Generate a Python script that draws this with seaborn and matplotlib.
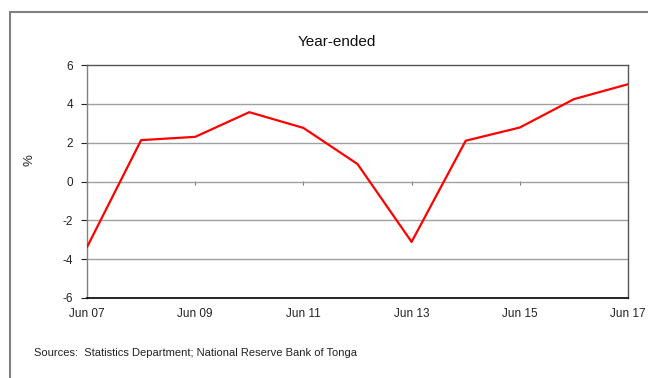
import matplotlib
matplotlib.use("Agg")
import matplotlib.pyplot as plt
import matplotlib.patches as mpatches
import seaborn as sns
import pandas as pd

periods = ["Jun 07", "Jun 08", "Jun 09", "Jun 10", "Jun 11", "Jun 12",
           "Jun 13", "Jun 14", "Jun 15", "Jun 16", "Jun 17"]
values = [-3.38, 2.13, 2.30, 3.57, 2.76, 0.90, -3.11, 2.10, 2.78, 4.24, 5.01]
y_ticks = [-6, -4, -2, 0, 2, 4, 6]
x_tick_labels = ["Jun 07", "Jun 09", "Jun 11", "Jun 13", "Jun 15", "Jun 17"]

df = pd.DataFrame({"idx": range(len(periods)), "period": periods, "value": values})

sns.set_theme(style="white")
plt.rcParams["font.family"] = ["Liberation Sans", "DejaVu Sans"]

fig = plt.figure(figsize=(6.48, 3.78), dpi=100)
ax = fig.add_axes([87/648, 1-298/378, (628-87)/648, (298-65)/378])

for yv in y_ticks[1:-1]:
    ax.axhline(yv, color="#a0a0a0", lw=1.0, zorder=1)

sns.lineplot(data=df, x="idx", y="value", color="#ff0000", lw=1.6, ax=ax, zorder=3)

ax.set_xlim(0, len(periods) - 1)
ax.set_ylim(-6, 6)
ax.set_yticks(y_ticks)
ax.set_yticklabels([str(v) for v in y_ticks], fontsize=8.5)
tick_pos = [periods.index(l) for l in x_tick_labels]
ax.set_xticks(tick_pos)
ax.set_xticklabels(x_tick_labels, fontsize=8.5)
ax.tick_params(axis="x", length=0, pad=7, colors="#222222")
ax.tick_params(axis="y", length=4, direction="out", width=0.8, pad=6, colors="#222222", left=True)
ax.set_xlabel("")
ax.set_ylabel("%", fontsize=9.5)
ax.yaxis.set_label_coords(-0.095, 0.59)

for s in ["top", "right"]:
    ax.spines[s].set_color("#555555")
    ax.spines[s].set_linewidth(1.0)
ax.spines["left"].set_color("#808080")
ax.spines["left"].set_linewidth(1.0)
ax.spines["bottom"].set_color("#000000")
ax.spines["bottom"].set_linewidth(1.2)

# tick marks hanging below the zero line
sec = ax.secondary_xaxis(0.5)
sec.set_xticks(tick_pos)
sec.set_xticklabels([])
sec.tick_params(axis="x", length=3, width=0.8, direction="in", colors="#777777")
for sp in sec.spines.values():
    sp.set_visible(False)

fig.text(337/648, 1-42/378, "Year-ended", fontsize=11, ha="center", va="center", color="#111111")

fig.text(34/648, 1-353/378, "Sources:  Statistics Department; National Reserve Bank of Tonga",
         fontsize=8, va="center", ha="left", color="#222222")

border = mpatches.Rectangle((10/648, -0.2), 1.2, 1 - 12/378 + 0.2,
                            transform=fig.transFigure, fill=False,
                            edgecolor="#808080", lw=1.5, clip_on=False)
fig.add_artist(border)

fig.savefig("out.png", dpi=100, facecolor="white")
